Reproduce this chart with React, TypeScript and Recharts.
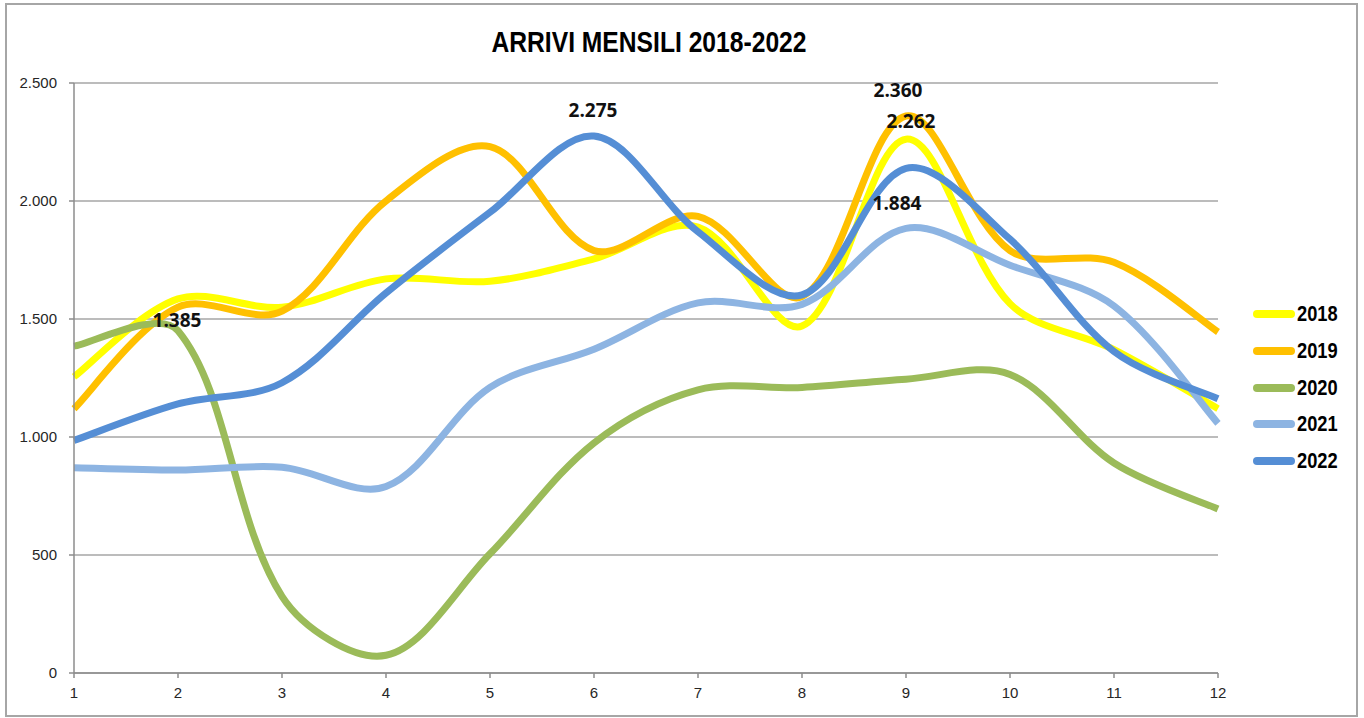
import { LineChart, Line, XAxis, YAxis, CartesianGrid, Legend, LabelList } from 'recharts'

const MONTHS = [1, 2, 3, 4, 5, 6, 7, 8, 9, 10, 11, 12]
const Y_TICKS = [0, 500, 1000, 1500, 2000, 2500]

const A2018 = [1255, 1585, 1550, 1670, 1660, 1755, 1890, 1470, 2262, 1565, 1370, 1120]
const A2019 = [1120, 1550, 1533, 2000, 2230, 1790, 1935, 1595, 2360, 1790, 1740, 1445]
const A2020 = [1385, 1450, 325, 75, 505, 975, 1200, 1210, 1245, 1265, 890, 695]
const A2021 = [870, 860, 872, 790, 1210, 1372, 1568, 1562, 1884, 1728, 1555, 1058]
const A2022 = [985, 1140, 1230, 1610, 1952, 2275, 1870, 1602, 2138, 1838, 1362, 1162]

const SERIES = [
  { key: 'y2018', name: '2018', values: A2018, color: '#FFFF00' },
  { key: 'y2019', name: '2019', values: A2019, color: '#FFC000' },
  { key: 'y2020', name: '2020', values: A2020, color: '#9BBB59' },
  { key: 'y2021', name: '2021', values: A2021, color: '#8DB4E2' },
  { key: 'y2022', name: '2022', values: A2022, color: '#558ED5' },
]

// which points carry a data label (series key -> month index)
const LABELLED: Record<string, number> = { y2018: 8, y2019: 8, y2020: 0, y2021: 8, y2022: 5 }
// label placement relative to the point, px
const LABEL_SHIFT: Record<string, [number, number]> = {
  y2018: [5, -18], y2019: [-8, -26], y2020: [103, -26], y2021: [-9, -25], y2022: [-1, -26],
}

const data = MONTHS.map((m, i) => {
  const row: Record<string, number> = { m }
  SERIES.forEach(s => { row[s.key] = s.values[i] })
  return row
})

const fmt = (v: number) => String(v).replace(/\B(?=(\d{3})+(?!\d))/g, '.')

const dist = (a: number[], b: number[]) => Math.hypot(b[0] - a[0], b[1] - a[1])

// excel-like smoothing: bezier through every point, control arms scaled by segment length
function excelCurve(context: any) {
  let pts: number[][] = []
  return {
    areaStart() {}, areaEnd() {},
    lineStart() { pts = [] },
    point(x: number, y: number) { pts.push([+x, +y]) },
    lineEnd() {
      const n = pts.length
      if (!n) return
      context.moveTo(pts[0][0], pts[0][1])
      for (let i = 0; i < n - 1; i++) {
        const p0 = pts[i - 1] || pts[i]
        const p1 = pts[i]
        const p2 = pts[i + 1]
        const p3 = pts[i + 2] || p2
        const d01 = dist(p0, p1), d12 = dist(p1, p2), d23 = dist(p2, p3)
        const k1 = d01 + d12 ? d12 / (d01 + d12) / 3 : 0
        const k2 = d12 + d23 ? d12 / (d12 + d23) / 3 : 0
        const f1 = i === 0 ? 1 / 6 : k1
        const f2 = i === n - 2 ? 1 / 6 : k2
        context.bezierCurveTo(
          p1[0] + (p2[0] - p0[0]) * f1, p1[1] + (p2[1] - p0[1]) * f1,
          p2[0] - (p3[0] - p1[0]) * f2, p2[1] - (p3[1] - p1[1]) * f2,
          p2[0], p2[1],
        )
      }
    },
  }
}

function makeLabel(key: string) {
  return (props: any) => {
    const { x, y, index, value } = props
    if (index !== LABELLED[key]) return null
    const [dx, dy] = LABEL_SHIFT[key]
    return (
      <text x={x + dx} y={y + dy} textAnchor="middle" dominantBaseline="central"
        fontFamily="'Open Sans', sans-serif" fontWeight={700} fontSize={19} fill="#111">
        {fmt(value)}
      </text>
    )
  }
}

function LegendBox() {
  return (
    <div style={{ width: 130, paddingLeft: 35, boxSizing: 'border-box' }}>
      {SERIES.map(s => (
        <div key={s.key} style={{ height: 36.7, display: 'flex', alignItems: 'center' }}>
          <div style={{ width: 42, height: 8, borderRadius: 4, background: s.color }} />
          <span style={{
            marginLeft: 2, display: 'inline-block', transform: 'scaleX(0.83)', transformOrigin: 'left center',
            fontFamily: "'Liberation Sans', Arial, sans-serif",
            fontWeight: 700, fontSize: 22, color: '#000',
          }}>{s.name}</span>
        </div>
      ))}
    </div>
  )
}

export default function App() {
  return (
    <div style={{ position: 'absolute', left: 0, top: 0, width: 1364, height: 718, background: '#fff' }}>
      <div style={{
        position: 'absolute', left: 5, top: 3, width: 1353, height: 714,
        border: '2px solid #a6a6a6', boxSizing: 'border-box',
      }} />
      <div style={{
        position: 'absolute', left: 449, top: 23, width: 400, textAlign: 'center',
        fontFamily: "'Liberation Sans', Arial, sans-serif",
        fontWeight: 700, fontSize: 29, lineHeight: '38px', color: '#000',
        transform: 'scaleX(0.85)', transformOrigin: 'center',
      }}>
        ARRIVI MENSILI 2018-2022
      </div>
      <div style={{ position: 'absolute', left: 0, top: 0 }}>
        <LineChart width={1364} height={718} data={data}
          margin={{ top: 83, right: 16, left: 10, bottom: 5 }}>
          <CartesianGrid vertical={false} stroke="#a6a6a6" strokeWidth={1.5} />
          <XAxis dataKey="m" height={40} tickSize={5} tickMargin={9}
            stroke="#8c8c8c" strokeWidth={1.5}
            tick={{ fill: '#262626', fontSize: 15, fontFamily: "'Liberation Sans', Arial, sans-serif" }} />
          <YAxis width={64} domain={[0, 2500]} ticks={Y_TICKS} tickSize={5} tickMargin={12}
            stroke="#8c8c8c" strokeWidth={1.5} tickFormatter={fmt}
            tick={{ fill: '#262626', fontSize: 15, fontFamily: "'Liberation Sans', Arial, sans-serif" }} />
          <Legend layout="vertical" align="right" verticalAlign="top"
            wrapperStyle={{ top: 296 }} content={() => <LegendBox />} />
          {SERIES.map(s => (
            <Line key={s.key} dataKey={s.key} name={s.name} type={excelCurve as any}
              stroke={s.color} strokeWidth={7} dot={false} activeDot={false}
              isAnimationActive={false}>
              <LabelList dataKey={s.key} content={makeLabel(s.key)} />
            </Line>
          ))}
        </LineChart>
      </div>
    </div>
  )
}
